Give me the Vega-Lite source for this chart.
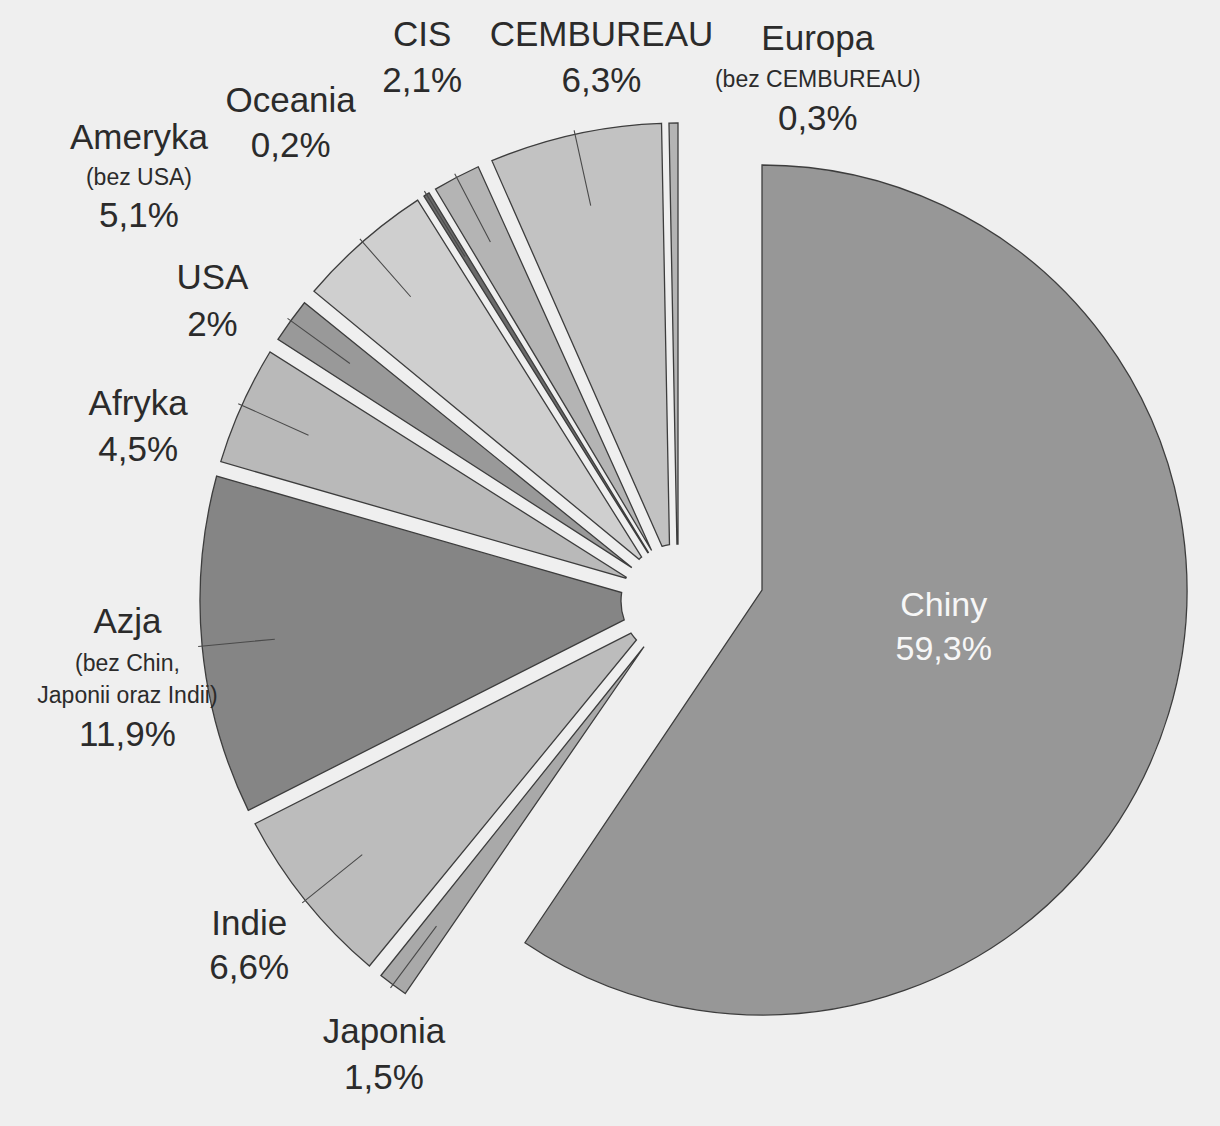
{
  "$schema": "https://vega.github.io/schema/vega-lite/v6.json",
  "width": 1084,
  "height": 1050,
  "autosize": {"type": "none"},
  "padding": {"left": 136, "top": 76, "right": 0, "bottom": 0},
  "background": "#efefef",
  "config": {
    "view": {"stroke": null},
    "font": "Liberation Sans",
    "locale": {"number": {"decimal": ",", "thousands": " ", "grouping": [3], "currency": ["", " zł"]}}
  },
  "params": [
    {"name": "lx", "value": {"Japonia": 34, "Indie": 0, "Azja": -3, "Afryka": -38, "USA": -20, "Ameryka": -176, "Oceania": -98, "CIS": -1, "CEMBUREAU": 42, "Europa": 145}},
    {"name": "ny", "value": {"Japonia": -10, "Indie": -21, "Azja": -31, "Afryka": 28, "USA": -1, "Ameryka": -50, "Oceania": -32, "CIS": -79, "CEMBUREAU": -29, "Europa": -12}},
    {"name": "my", "value": {"Azja": 11, "Ameryka": -10, "Europa": 29}},
    {"name": "py", "value": {"Japonia": 36, "Indie": 23, "Azja": 82, "Afryka": 74, "USA": 46, "Ameryka": 28, "Oceania": 13, "CIS": -33, "CEMBUREAU": 17, "Europa": 68}}
  ],
  "data": {
    "values": [
      {"nr": 1, "region": "Chiny", "note": "", "udzial": 0.593},
      {"nr": 2, "region": "Japonia", "note": "", "udzial": 0.015},
      {"nr": 3, "region": "Indie", "note": "", "udzial": 0.066},
      {"nr": 4, "region": "Azja", "note": "(bez Chin,\nJaponii oraz Indii)", "udzial": 0.119},
      {"nr": 5, "region": "Afryka", "note": "", "udzial": 0.045},
      {"nr": 6, "region": "USA", "note": "", "udzial": 0.02},
      {"nr": 7, "region": "Ameryka", "note": "(bez USA)", "udzial": 0.051},
      {"nr": 8, "region": "Oceania", "note": "", "udzial": 0.002},
      {"nr": 9, "region": "CIS", "note": "", "udzial": 0.021},
      {"nr": 10, "region": "CEMBUREAU", "note": "", "udzial": 0.063},
      {"nr": 11, "region": "Europa", "note": "(bez CEMBUREAU)", "udzial": 0.003}
    ]
  },
  "encoding": {
    "theta": {"field": "udzial", "type": "quantitative", "stack": true},
    "order": {"field": "nr", "type": "quantitative"}
  },
  "layer": [
    {
      "transform": [{"filter": "datum.region === 'Chiny'"}],
      "mark": {"type": "arc", "outerRadius": 425, "innerRadius": 0, "xOffset": 84, "yOffset": -11, "stroke": "#3d3d3d", "strokeWidth": 1.3},
      "encoding": {
        "fill": {"field": "region", "type": "nominal", "legend": null,
          "scale": {"domain": ["Chiny", "Japonia", "Indie", "Azja", "Afryka", "USA", "Ameryka", "Oceania", "CIS", "CEMBUREAU", "Europa"],
                    "range": ["#979797", "#a9a9a9", "#bcbcbc", "#858585", "#b9b9b9", "#999999", "#cfcfcf", "#6a6a6a", "#b4b4b4", "#c2c2c2", "#b4b4b4"]}}
      }
    },
    {
      "mark": {"type": "arc", "outerRadius": 478, "innerRadius": 57, "padAngle": {"expr": "datum.region === 'Europa' || datum.region === 'Oceania' ? 0 : 0.031"}, "stroke": "#3d3d3d", "strokeWidth": 1.3},
      "encoding": {
        "fill": {"field": "region", "type": "nominal", "legend": null,
          "scale": {"domain": ["Chiny", "Japonia", "Indie", "Azja", "Afryka", "USA", "Ameryka", "Oceania", "CIS", "CEMBUREAU", "Europa"],
                    "range": ["#979797", "#a9a9a9", "#bcbcbc", "#858585", "#b9b9b9", "#999999", "#cfcfcf", "#6a6a6a", "#b4b4b4", "#c2c2c2", "#b4b4b4"]}},
        "opacity": {"condition": {"test": "datum.region === 'Chiny'", "value": 0}, "value": 1}
      }
    },
    {
      "mark": {"type": "arc", "outerRadius": 482, "innerRadius": 405, "padAngle": 3, "filled": false, "stroke": "#4a4a4a", "strokeWidth": 1.1},
      "encoding": {
        "opacity": {"condition": {"test": "datum.region === 'Chiny' || datum.region === 'Europa'", "value": 0}, "value": 1}
      }
    },
    {
      "mark": {"type": "text", "radius": 550, "fontSize": 35, "fill": "#2b2b2b", "align": "center", "baseline": "middle",
               "dx": {"expr": "lx[datum.region] || 0"}, "dy": {"expr": "ny[datum.region] || 0"}},
      "encoding": {
        "text": {"field": "region", "type": "nominal"},
        "opacity": {"condition": {"test": "datum.region === 'Chiny'", "value": 0}, "value": 1}
      }
    },
    {
      "mark": {"type": "text", "radius": 550, "fontSize": 23, "fill": "#2b2b2b", "align": "center", "baseline": "middle", "lineBreak": "\n", "lineHeight": 32,
               "dx": {"expr": "lx[datum.region] || 0"}, "dy": {"expr": "my[datum.region] || 0"}},
      "encoding": {
        "text": {"field": "note", "type": "nominal"},
        "opacity": {"condition": {"test": "datum.region === 'Chiny'", "value": 0}, "value": 1}
      }
    },
    {
      "mark": {"type": "text", "radius": 550, "fontSize": 35, "fill": "#2b2b2b", "align": "center", "baseline": "middle",
               "dx": {"expr": "lx[datum.region] || 0"}, "dy": {"expr": "py[datum.region] || 0"}},
      "encoding": {
        "text": {"field": "udzial", "type": "quantitative", "format": ".1~%"},
        "opacity": {"condition": {"test": "datum.region === 'Chiny'", "value": 0}, "value": 1}
      }
    },
    {
      "transform": [{"filter": "datum.region === 'Chiny'"}],
      "mark": {"type": "text", "radius": 190, "xOffset": 84, "yOffset": -11, "fontSize": 34, "fill": "#f7f7f7", "align": "center", "baseline": "middle", "dy": -39},
      "encoding": {"text": {"field": "region", "type": "nominal"}}
    },
    {
      "transform": [{"filter": "datum.region === 'Chiny'"}],
      "mark": {"type": "text", "radius": 190, "xOffset": 84, "yOffset": -11, "fontSize": 34, "fill": "#f7f7f7", "align": "center", "baseline": "middle", "dy": 5},
      "encoding": {"text": {"field": "udzial", "type": "quantitative", "format": ".1~%"}}
    }
  ]
}
